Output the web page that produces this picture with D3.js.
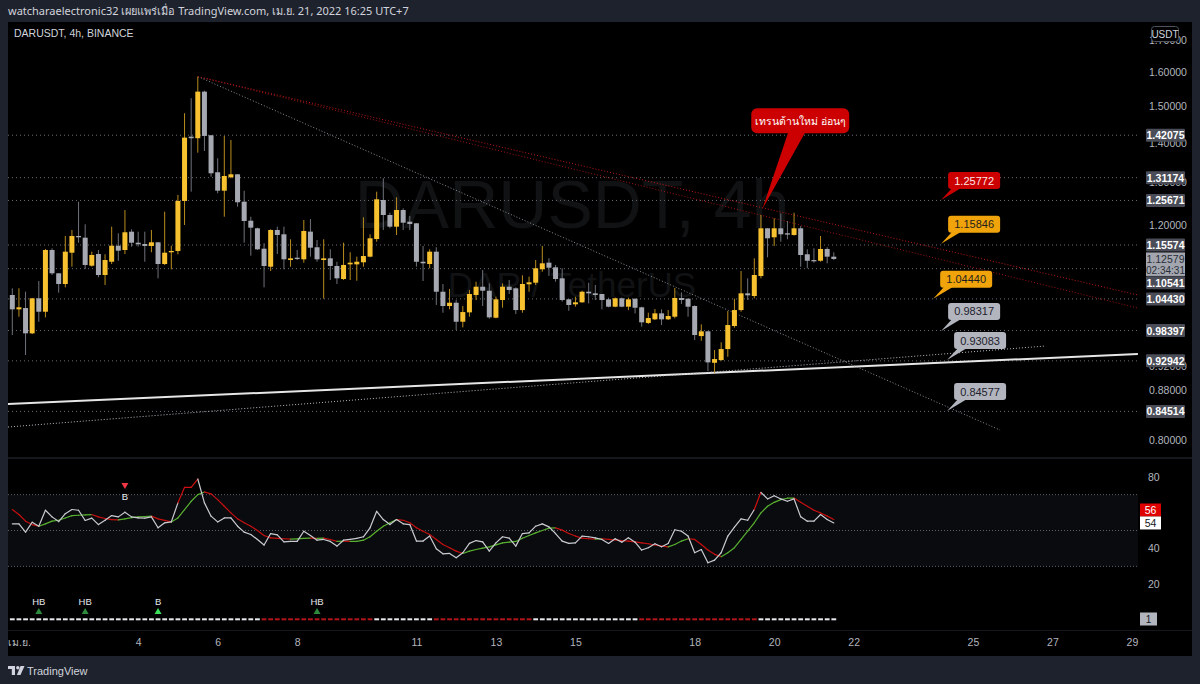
<!DOCTYPE html>
<html>
<head>
<meta charset="utf-8">
<script src="https://cdn.jsdelivr.net/npm/d3@7"></script>
<style>
body{margin:0;background:#1e222d;overflow:hidden}
svg{display:block;font-family:"Liberation Sans","Noto Sans","DejaVu Sans",sans-serif}
</style>
</head>
<body>
<svg id="chart" width="1200" height="684"></svg>
<script>
// DARUSDT 4h candles, index 0 = Mar 31 23:00 (UTC+7)
const opens = [1.0520,1.0240,1.0265,0.9788,1.0455,1.0194,1.1449,1.0958,1.0740,1.1391,1.1755,1.1717,1.1116,1.1363,1.0923,1.1199,1.1542,1.1449,1.1850,1.1607,
1.1579,1.1536,1.1616,1.1151,1.1400,1.1428,1.2555,1.4170,1.4127,1.5421,1.4206,1.3251,1.2800,1.3127,1.3201,1.2538,1.2097,1.1926,1.1477,1.1095,
1.1888,1.1792,1.1235,1.1284,1.1250,1.1851,1.1508,1.1235,1.1271,1.1110,1.0841,1.1144,1.1144,1.1187,1.1306,1.1688,1.2578,1.2228,1.1962,1.2343,
1.2075,1.2039,1.1199,1.1151,1.1413,1.0585,1.0304,1.0368,1.0004,1.0182,1.0520,1.0685,1.0605,1.0080,1.0421,1.0685,1.0653,1.0226,1.0734,1.0766,
1.1041,1.1179,1.1082,1.0855,1.0435,1.0337,1.0376,1.0585,1.0553,1.0540,1.0435,1.0291,1.0455,1.0291,1.0447,1.0279,0.9981,1.0049,1.0163,1.0049,
1.0099,1.0461,1.0447,1.0304,0.9738,0.9825,0.9261,0.9308,0.9503,0.9924,1.0226,1.0553,1.0500,1.0902,1.1926,1.1726,1.1926,1.1815,1.1777,1.1926,
1.1357,1.1235,1.1220,1.1471,1.1306]
const highs = [1.0653,1.0653,1.0585,1.0455,1.0800,1.1471,1.1486,1.0958,1.1755,1.1888,1.2538,1.2016,1.1413,1.1449,1.1357,1.1962,1.1815,1.2343,1.1903,1.1850,
1.1850,1.1888,1.1616,1.2304,1.1542,1.2698,1.4807,1.5230,1.5863,1.5450,1.4206,1.3605,1.4188,1.4081,1.3201,1.2800,1.2189,1.1940,1.1594,1.1903,
1.1962,1.1962,1.1682,1.1449,1.2113,1.2136,1.1666,1.1682,1.1464,1.1199,1.1607,1.1400,1.1306,1.2175,1.1792,1.2776,1.3102,1.2281,1.2642,1.2382,
1.2205,1.2039,1.1536,1.1464,1.1508,1.0740,1.0639,1.0421,1.0304,1.0619,1.0786,1.1026,1.0752,1.0486,1.0752,1.0820,1.0673,1.0917,1.0889,1.1235,
1.1536,1.1271,1.1131,1.1062,1.0435,1.0486,1.0605,1.0766,1.0720,1.0540,1.0467,1.0470,1.0470,1.0467,1.0447,1.0291,1.0175,1.0245,1.0240,1.0226,
1.0659,1.0573,1.0447,1.0317,0.9955,0.9825,0.9485,0.9624,1.0207,1.0447,1.1005,1.0855,1.1271,1.2228,1.1926,1.2152,1.2265,1.2091,1.2281,1.1978,
1.1464,1.1486,1.1755,1.1508,1.1400]
const lows = [0.9757,1.0099,0.9397,0.9775,1.0004,1.0087,1.0923,1.0566,1.0673,1.1095,1.1607,1.1047,1.1095,1.0876,1.0720,1.1151,1.1220,1.1363,1.1521,1.1521,
1.1199,1.1400,1.0855,1.1131,1.1041,1.1357,1.2000,1.2776,1.3749,1.3792,1.3142,1.2738,1.2189,1.3102,1.2421,1.1607,1.1327,1.1450,1.0673,1.1005,
1.1363,1.1041,1.1095,1.1235,1.1179,1.1306,1.1199,1.0447,1.0820,1.0740,1.0820,1.0820,1.0806,1.1095,1.1292,1.1629,1.1888,1.1926,1.1777,1.1888,
1.1888,1.1095,1.0800,1.1061,1.0324,1.0175,1.0240,0.9849,0.9899,1.0099,1.0421,1.0304,1.0060,1.0068,1.0271,1.0540,1.0150,1.0175,1.0585,1.0720,
1.0991,1.0903,1.0786,1.0388,1.0212,1.0291,1.0368,1.0356,1.0421,1.0240,1.0279,1.0280,1.0280,1.0226,1.0162,0.9912,0.9961,1.0036,0.9942,1.0036,
1.0068,1.0343,1.0099,0.9665,0.9652,0.9118,0.9088,0.9296,0.9366,0.9892,1.0194,1.0421,1.0455,1.0855,1.1292,1.1536,1.1629,1.1682,1.1763,1.1095,
1.1062,1.1179,1.1199,1.1166,1.1235]
const closes = [1.0240,1.0279,0.9788,1.0455,1.0194,1.1449,1.0958,1.0740,1.1413,1.1755,1.1726,1.1131,1.1342,1.0923,1.1235,1.1542,1.1434,1.1837,1.1607,1.1573,
1.1536,1.1616,1.1151,1.1391,1.1428,1.2555,1.4143,1.4127,1.5421,1.4188,1.3226,1.2800,1.3159,1.3201,1.2524,1.2091,1.1940,1.1464,1.1110,1.1888,
1.1777,1.1250,1.1271,1.1256,1.1866,1.1499,1.1250,1.1271,1.1110,1.0855,1.1131,1.1179,1.1199,1.1320,1.1704,1.2595,1.2228,1.1962,1.2343,1.2052,
1.2023,1.1199,1.1166,1.1413,1.0585,1.0304,1.0368,1.0004,1.0188,1.0540,1.0685,1.0605,1.0087,1.0435,1.0685,1.0619,1.0226,1.0740,1.0774,1.1062,
1.1166,1.1074,1.0841,1.0421,1.0324,1.0376,1.0585,1.0553,1.0520,1.0421,1.0291,1.0455,1.0291,1.0435,1.0271,0.9993,1.0074,1.0163,1.0049,1.0112,
1.0461,1.0421,1.0291,0.9757,0.9825,0.9268,0.9326,0.9503,0.9942,1.0226,1.0553,1.0514,1.0923,1.1926,1.1704,1.1926,1.1792,1.1785,1.1926,1.1342,
1.1220,1.1208,1.1471,1.1306,1.12579]

// RSI (white) and its moving average (red/green)
const rsiValues = [53.7,53.7,49.1,54.6,52.4,61.3,57.6,55.0,59.4,61.7,61.3,55.6,56.9,53.3,55.7,58.3,57.6,60.2,57.6,57.0,
56.9,57.6,51.5,54.3,54.8,65.4,74.1,74.1,78.7,65.4,58.0,54.8,57.0,57.0,52.4,49.1,47.8,45.0,41.9,48.3,
47.6,43.7,43.9,43.9,49.6,47.2,44.6,45.0,43.9,41.3,44.6,45.0,45.6,46.5,51.5,60.7,56.1,53.3,56.1,53.7,
53.3,44.1,44.1,46.9,39.8,37.0,37.2,34.8,37.6,42.8,44.4,43.7,38.5,43.1,46.5,45.7,41.3,48.3,48.7,52.4,
53.7,52.0,48.3,44.1,42.8,43.1,46.9,46.5,45.9,45.0,42.8,45.4,43.5,45.9,43.5,39.1,40.4,42.6,40.9,42.8,
50.4,49.6,46.9,37.6,39.4,32.0,33.5,37.6,46.9,51.9,56.5,55.7,61.7,71.3,67.6,69.4,67.6,66.3,67.6,57.6,
55.2,55.2,58.9,56.1,54.2]
const rsiMa = [61.7,58.9,55.2,53.3,52.4,53.7,55.2,55.7,57.0,58.3,58.5,58.7,58.9,57.6,56.7,56.1,55.9,56.5,57.2,57.6,
57.8,58.0,56.5,55.6,54.8,57.0,61.7,66.3,70.0,71.5,70.4,67.2,63.5,59.8,56.5,54.3,52.4,50.0,47.2,45.9,
45.6,45.4,45.2,45.3,45.6,45.7,45.6,45.7,45.0,43.9,44.1,43.9,43.9,44.6,46.5,49.6,52.4,54.3,56.1,55.7,
54.3,51.5,49.6,47.8,45.0,42.2,40.4,38.5,37.2,38.5,39.4,40.2,40.9,42.0,43.1,43.5,43.9,45.7,47.2,48.7,
50.0,51.3,51.5,50.2,48.3,46.9,45.7,45.4,45.2,45.4,45.0,44.8,44.4,44.1,43.7,43.1,42.6,41.9,41.3,40.9,
42.2,44.1,45.4,45.0,42.2,39.1,36.7,35.4,37.6,40.4,45.0,49.6,54.3,59.8,63.5,65.7,67.2,68.0,68.1,65.7,
63.5,61.3,59.8,58.0,56.1]

// trend strip under the RSI: runs of candles [first, last, state]
const trendRuns = [[0,37,"up"],[38,54,"down"],[55,63,"up"],[64,78,"down"],[79,94,"up"],[95,112,"down"],[113,124,"up"]]
const bullSignalIdx = [4,11,22,46]
const bullSignalText = ["HB","HB","B","HB"]
const bearSignalIdx = [17]
const bearSignalText = ["B"]

// price scale labels with horizontal lines
const levelPrices = [1.42075,1.31174,1.25671,1.15574,1.10541,1.04430,0.98397,0.92942,0.84514]
const priceTicks = [1.7,1.6,1.5,1.4,1.3,1.2,0.92,0.88,0.8]
const rsiTicks = [80,40,20]
// price notes drawn on the chart
const notePrices = [1.25772,1.15846,1.04440,0.98317,0.93083,0.84577]
const noteIdx = [140.2,140.2,139.0,140.2,141.1,141.1]
const noteKind = ["red","orange","orange","gray","gray","gray"]
// drawn trend lines (candle index, price)
const lineNames = ["support","supportDotted","fallGray","resistA","resistB"]
const lineStartIdx = [-0.65,-0.65,28.03,28.03,28.03]
const lineStartPrice = [0.8569,0.8207,1.5863,1.5863,1.5863]
const lineEndIdx = [169.9,155.9,149.1,169.9,169.9]
const lineEndPrice = [0.9414,0.9557,0.8160,1.0520,1.0265]
// x axis
const xTickIdx = [1,19,31,43,61,73,85,103,115,127,145,157,169]
const xTickLabels = ["เม.ย.","4","6","8","11","13","15","18","20","22","25","27","29"]
const countdown = "02:34:31"

const plot = {left:8, right:1138, top:22, bottom:457}
const rsiBox = {top:459, bottom:630}
let upBody="#f7c12f", upWick="#b98d1e", downBody="#a6a9b1", downWick="#6f727a"
let lineStyle = {
  support:{stroke:"#e6e6e6", width:2, dash:null},
  supportDotted:{stroke:"#b8bbc3", width:1, dash:"1,2"},
  fallGray:{stroke:"#8a8d95", width:1, dash:"1,2"},
  resistA:{stroke:"#c01818", width:1, dash:"1,2"},
  resistB:{stroke:"#a01414", width:1, dash:"1,2"}
}
let noteColor = {red:["#cc0000","#ffe6e6"], orange:["#f0a30a","#1e1e1e"], gray:["#b2b5be","#1e222d"]}

let svg = d3.select("#chart")
let x = d3.scaleLinear().domain([0,169]).range([12.3, 12.3+6.625*169])
let y = d3.scaleLog().domain([0.8,1.7]).range([440.6,39.8])
let yR = d3.scaleLinear().domain([20,80]).range([584.3,476.7])

svg.append("rect").attr("width",1200).attr("height",684).attr("fill","#1e222d")
svg.append("rect").attr("x",8).attr("y",22).attr("width",1184).attr("height",634).attr("fill","#000")

let defs = svg.append("defs")
defs.append("clipPath").attr("id","clipPrice").append("rect")
    .attr("x",plot.left).attr("y",plot.top).attr("width",plot.right-plot.left).attr("height",plot.bottom-plot.top)
defs.append("clipPath").attr("id","clipRsi").append("rect")
    .attr("x",plot.left).attr("y",rsiBox.top).attr("width",plot.right-plot.left).attr("height",rsiBox.bottom-rsiBox.top)

// panel separators
svg.append("line").attr("x1",8).attr("x2",1192).attr("y1",458).attr("y2",458).attr("stroke","#2a2e39")
svg.append("line").attr("x1",8).attr("x2",1192).attr("y1",630.5).attr("y2",630.5).attr("stroke","#15171d")

// watermark
svg.append("text").attr("x",572).attr("y",228).attr("text-anchor","middle")
    .style("font-size","68px").style("fill","#111214").text("DARUSDT, 4h")
svg.append("text").attr("x",572).attr("y",297).attr("text-anchor","middle")
    .style("font-size","35px").style("fill","#111214").text("DAR / TetherUS")

let price = svg.append("g").attr("clip-path","url(#clipPrice)")

// horizontal level lines
price.selectAll(".lvl").data(levelPrices).enter().append("line")
    .attr("x1",plot.left).attr("x2",plot.right)
    .attr("y1",d=>y(d)).attr("y2",d=>y(d))
    .attr("stroke","#6a6d75").attr("stroke-dasharray","1,3")

// trend lines
lineNames.forEach(function(name,i){
  let s = lineStyle[name]
  price.append("line")
    .attr("x1",x(lineStartIdx[i])).attr("y1",y(lineStartPrice[i]))
    .attr("x2",x(lineEndIdx[i])).attr("y2",y(lineEndPrice[i]))
    .attr("stroke",s.stroke).attr("stroke-width",s.width)
    .attr("stroke-dasharray",s.dash)
})

// candles
let candles = d3.range(opens.length).map(function(i){
  return {i:i, o:opens[i], h:highs[i], l:lows[i], c:closes[i], up:closes[i]>=opens[i]}
})
price.selectAll(".wick").data(candles).enter().append("line")
    .attr("x1",d=>x(d.i)).attr("x2",d=>x(d.i))
    .attr("y1",d=>y(d.h)).attr("y2",d=>y(d.l))
    .attr("stroke",d=>d.up?upWick:downWick).attr("stroke-width",1)
price.selectAll(".body").data(candles).enter().append("rect")
    .attr("x",d=>x(d.i)-2.5).attr("width",5)
    .attr("y",d=>y(Math.max(d.o,d.c)))
    .attr("height",d=>Math.max(1.2,y(Math.min(d.o,d.c))-y(Math.max(d.o,d.c))))
    .attr("fill",d=>d.up?upBody:downBody)

// price notes with pointer
notePrices.forEach(function(p,i){
  let tx = x(noteIdx[i]), ty = y(p)
  let bx = tx+7, by = ty-28, col = noteColor[noteKind[i]]
  svg.append("path")
    .attr("d","M"+(bx+4)+","+(by+16)+"L"+(bx+13)+","+(by+16)+"L"+tx+","+ty+"Z")
    .attr("fill",col[0])
  svg.append("rect").attr("x",bx).attr("y",by).attr("width",52).attr("height",17).attr("rx",3)
    .attr("fill",col[0])
  svg.append("text").attr("x",bx+26).attr("y",by+12.5).attr("text-anchor","middle")
    .style("font-size","11px").style("fill",col[1]).text(d3.format(".5f")(p))
})

// callout
let cx = x(113.2), cy = y(1.236)
svg.append("path").attr("d","M"+(cx+26)+","+(cy-77)+"L"+(cx+43)+","+(cy-77)+"L"+cx+","+cy+"Z").attr("fill","#cc0000")
svg.append("rect").attr("x",cx-11).attr("y",cy-101).attr("width",98).attr("height",25).attr("rx",6).attr("fill","#cc0000")
svg.append("text").attr("x",cx+38).attr("y",cy-84.5).attr("text-anchor","middle")
    .style("font-family","'Noto Sans','DejaVu Sans',sans-serif").style("font-size","10.5px").style("fill","#fff")
    .text("เทรนต้านใหม่ อ่อนๆ")

// price axis
let yAxis = d3.axisRight(y).tickValues(priceTicks).tickFormat(d3.format(".5f")).tickSize(0).tickPadding(3)
let ya = svg.append("g").attr("transform","translate(1146,0)").call(yAxis)
ya.select(".domain").remove()
ya.selectAll("text").style("fill","#b2b5be").style("font-size","10.5px").style("font-family","'Liberation Sans',sans-serif")

// current price box
let lastPrice = closes[closes.length-1]
let curY = y(lastPrice)
let curTop = curY-6.5, curBottom = curY+17
levelPrices.forEach(function(p){
  let ly = y(p)
  if (Math.abs(ly-(curTop+curBottom)/2) < (curBottom-curTop)/2+6.5) ly = curBottom+6.8
  svg.append("rect").attr("x",1146).attr("y",ly-6.5).attr("width",39).attr("height",13).attr("rx",1).attr("fill","#4a4d57")
  svg.append("text").attr("x",1165.5).attr("y",ly+4).attr("text-anchor","middle")
     .style("font-size","10.5px").style("font-weight","bold").style("fill","#fff").text(d3.format(".5f")(p))
})
svg.append("rect").attr("x",1146).attr("y",curTop).attr("width",39).attr("height",curBottom-curTop).attr("fill","#a3a6ae")
svg.append("text").attr("x",1165.5).attr("y",curY+4).attr("text-anchor","middle")
    .style("font-size","10.5px").style("fill","#2a2e39").text(d3.format(".5f")(lastPrice))
svg.append("text").attr("x",1165.5).attr("y",curY+15).attr("text-anchor","middle")
    .style("font-size","10px").style("fill","#2a2e39").text(countdown)

// USDT tag
svg.append("rect").attr("x",1151.5).attr("y",26.5).attr("width",27).attr("height",15).attr("rx",3)
    .attr("fill","#000").attr("stroke","#50535e")
svg.append("text").attr("x",1165).attr("y",37.5).attr("text-anchor","middle")
    .style("font-size","10px").style("fill","#d1d4dc").text("USDT")

// RSI panel
let rsi = svg.append("g").attr("clip-path","url(#clipRsi)")
rsi.append("rect").attr("x",plot.left).attr("width",plot.right-plot.left)
    .attr("y",yR(70)).attr("height",yR(30)-yR(70)).attr("fill","#0a0b0e")
rsi.selectAll(".band").data([70,50,30]).enter().append("line")
    .attr("x1",plot.left).attr("x2",plot.right).attr("y1",d=>yR(d)).attr("y2",d=>yR(d))
    .attr("stroke","#5d606b").attr("stroke-dasharray","1,2")

// MA line coloured by slope
d3.range(1,rsiMa.length).forEach(function(i){
  rsi.append("line").attr("x1",x(i-1)).attr("y1",yR(rsiMa[i-1])).attr("x2",x(i)).attr("y2",yR(rsiMa[i]))
    .attr("stroke",rsiMa[i]>=rsiMa[i-1]?"#58b031":"#c41010").attr("stroke-width",1.2).attr("stroke-linecap","round")
})
// RSI line, red when overbought
d3.range(1,rsiValues.length).forEach(function(i){
  rsi.append("line").attr("x1",x(i-1)).attr("y1",yR(rsiValues[i-1])).attr("x2",x(i)).attr("y2",yR(rsiValues[i]))
    .attr("stroke",rsiValues[i]>70?"#d01010":"#c9cbd1").attr("stroke-width",1.2).attr("stroke-linecap","round")
})

// trend strip
trendRuns.forEach(function(r){
  d3.range(r[0],r[1]+1).forEach(function(i){
    rsi.append("rect").attr("x",x(i)-2.4).attr("y",618.3).attr("width",4.8).attr("height",2)
      .attr("fill",r[2]=="up"?"#e6e8ee":"#b3141a")
  })
})
// bullish signals
bullSignalIdx.forEach(function(idx,k){
  let sx = x(idx)
  rsi.append("path").attr("d","M"+(sx-3.5)+",614L"+(sx+3.5)+",614L"+sx+",608Z")
    .attr("fill",bullSignalText[k]=="B"?"#3fe05c":"#2e8b3e")
  rsi.append("text").attr("x",sx).attr("y",604.5).attr("text-anchor","middle")
    .style("font-size","9.5px").style("fill","#e6e8ee").text(bullSignalText[k])
})
// bearish signals
bearSignalIdx.forEach(function(idx,k){
  let sx = x(idx)
  rsi.append("path").attr("d","M"+(sx-3.5)+",483L"+(sx+3.5)+",483L"+sx+",489Z").attr("fill","#f23645")
  rsi.append("text").attr("x",sx).attr("y",499.5).attr("text-anchor","middle")
    .style("font-size","9.5px").style("fill","#e6e8ee").text(bearSignalText[k])
})

// RSI axis
let rAxis = d3.axisRight(yR).tickValues(rsiTicks).tickSize(0).tickPadding(3)
let ra = svg.append("g").attr("transform","translate(1145,0)").call(rAxis)
ra.select(".domain").remove()
ra.selectAll("text").style("fill","#b2b5be").style("font-size","10.5px")
let lastMa = rsiMa[rsiMa.length-1], lastRsi = rsiValues[rsiValues.length-1]
svg.append("rect").attr("x",1140).attr("y",503.5).attr("width",21).attr("height",13).attr("fill","#e00000")
svg.append("text").attr("x",1150.5).attr("y",514).attr("text-anchor","middle")
    .style("font-size","10.5px").style("fill","#fff").text(Math.round(lastMa))
svg.append("rect").attr("x",1140).attr("y",yR(lastRsi)-6.5).attr("width",21).attr("height",13).attr("fill","#fff")
svg.append("text").attr("x",1150.5).attr("y",yR(lastRsi)+4).attr("text-anchor","middle")
    .style("font-size","10.5px").style("fill","#131722").text(Math.round(lastRsi))
svg.append("rect").attr("x",1140).attr("y",612.5).attr("width",17).attr("height",13).attr("fill","#b2b5be")
svg.append("text").attr("x",1148.5).attr("y",623).attr("text-anchor","middle")
    .style("font-size","10px").style("fill","#131722").text("1")

// time axis
let xAxis = d3.axisBottom(x).tickValues(xTickIdx).tickFormat((d,i)=>xTickLabels[i]).tickSize(0).tickPadding(3)
let xa = svg.append("g").attr("transform","translate(0,636)").call(xAxis)
xa.select(".domain").remove()
xa.selectAll("text").style("fill","#b2b5be").style("font-size","10.5px")
    .style("font-family","'Liberation Sans','Noto Sans','DejaVu Sans',sans-serif")

// headers
svg.append("text").attr("x",8).attr("y",14.5)
    .style("font-family","'Noto Sans','DejaVu Sans',sans-serif").style("font-size","11px").style("fill","#d1d4dc")
    .text("watcharaelectronic32 เผยแพร่เมื่อ TradingView.com, เม.ย. 21, 2022 16:25 UTC+7")
svg.append("text").attr("x",14).attr("y",37)
    .style("font-size","10.5px").style("fill","#d1d4dc").text("DARUSDT, 4h, BINANCE")

// footer logo
svg.append("path").attr("d","M8,666h7v9h-3.2v-6H8Z").attr("fill","#d1d4dc")
svg.append("circle").attr("cx",17.8).attr("cy",667.7).attr("r",1.7).attr("fill","#d1d4dc")
svg.append("path").attr("d","M20.5,666h4l-4,9h-3.6Z").attr("fill","#d1d4dc")
svg.append("text").attr("x",27).attr("y",674.5)
    .style("font-size","11px").style("fill","#d1d4dc").text("TradingView")
</script>
</body>
</html>
